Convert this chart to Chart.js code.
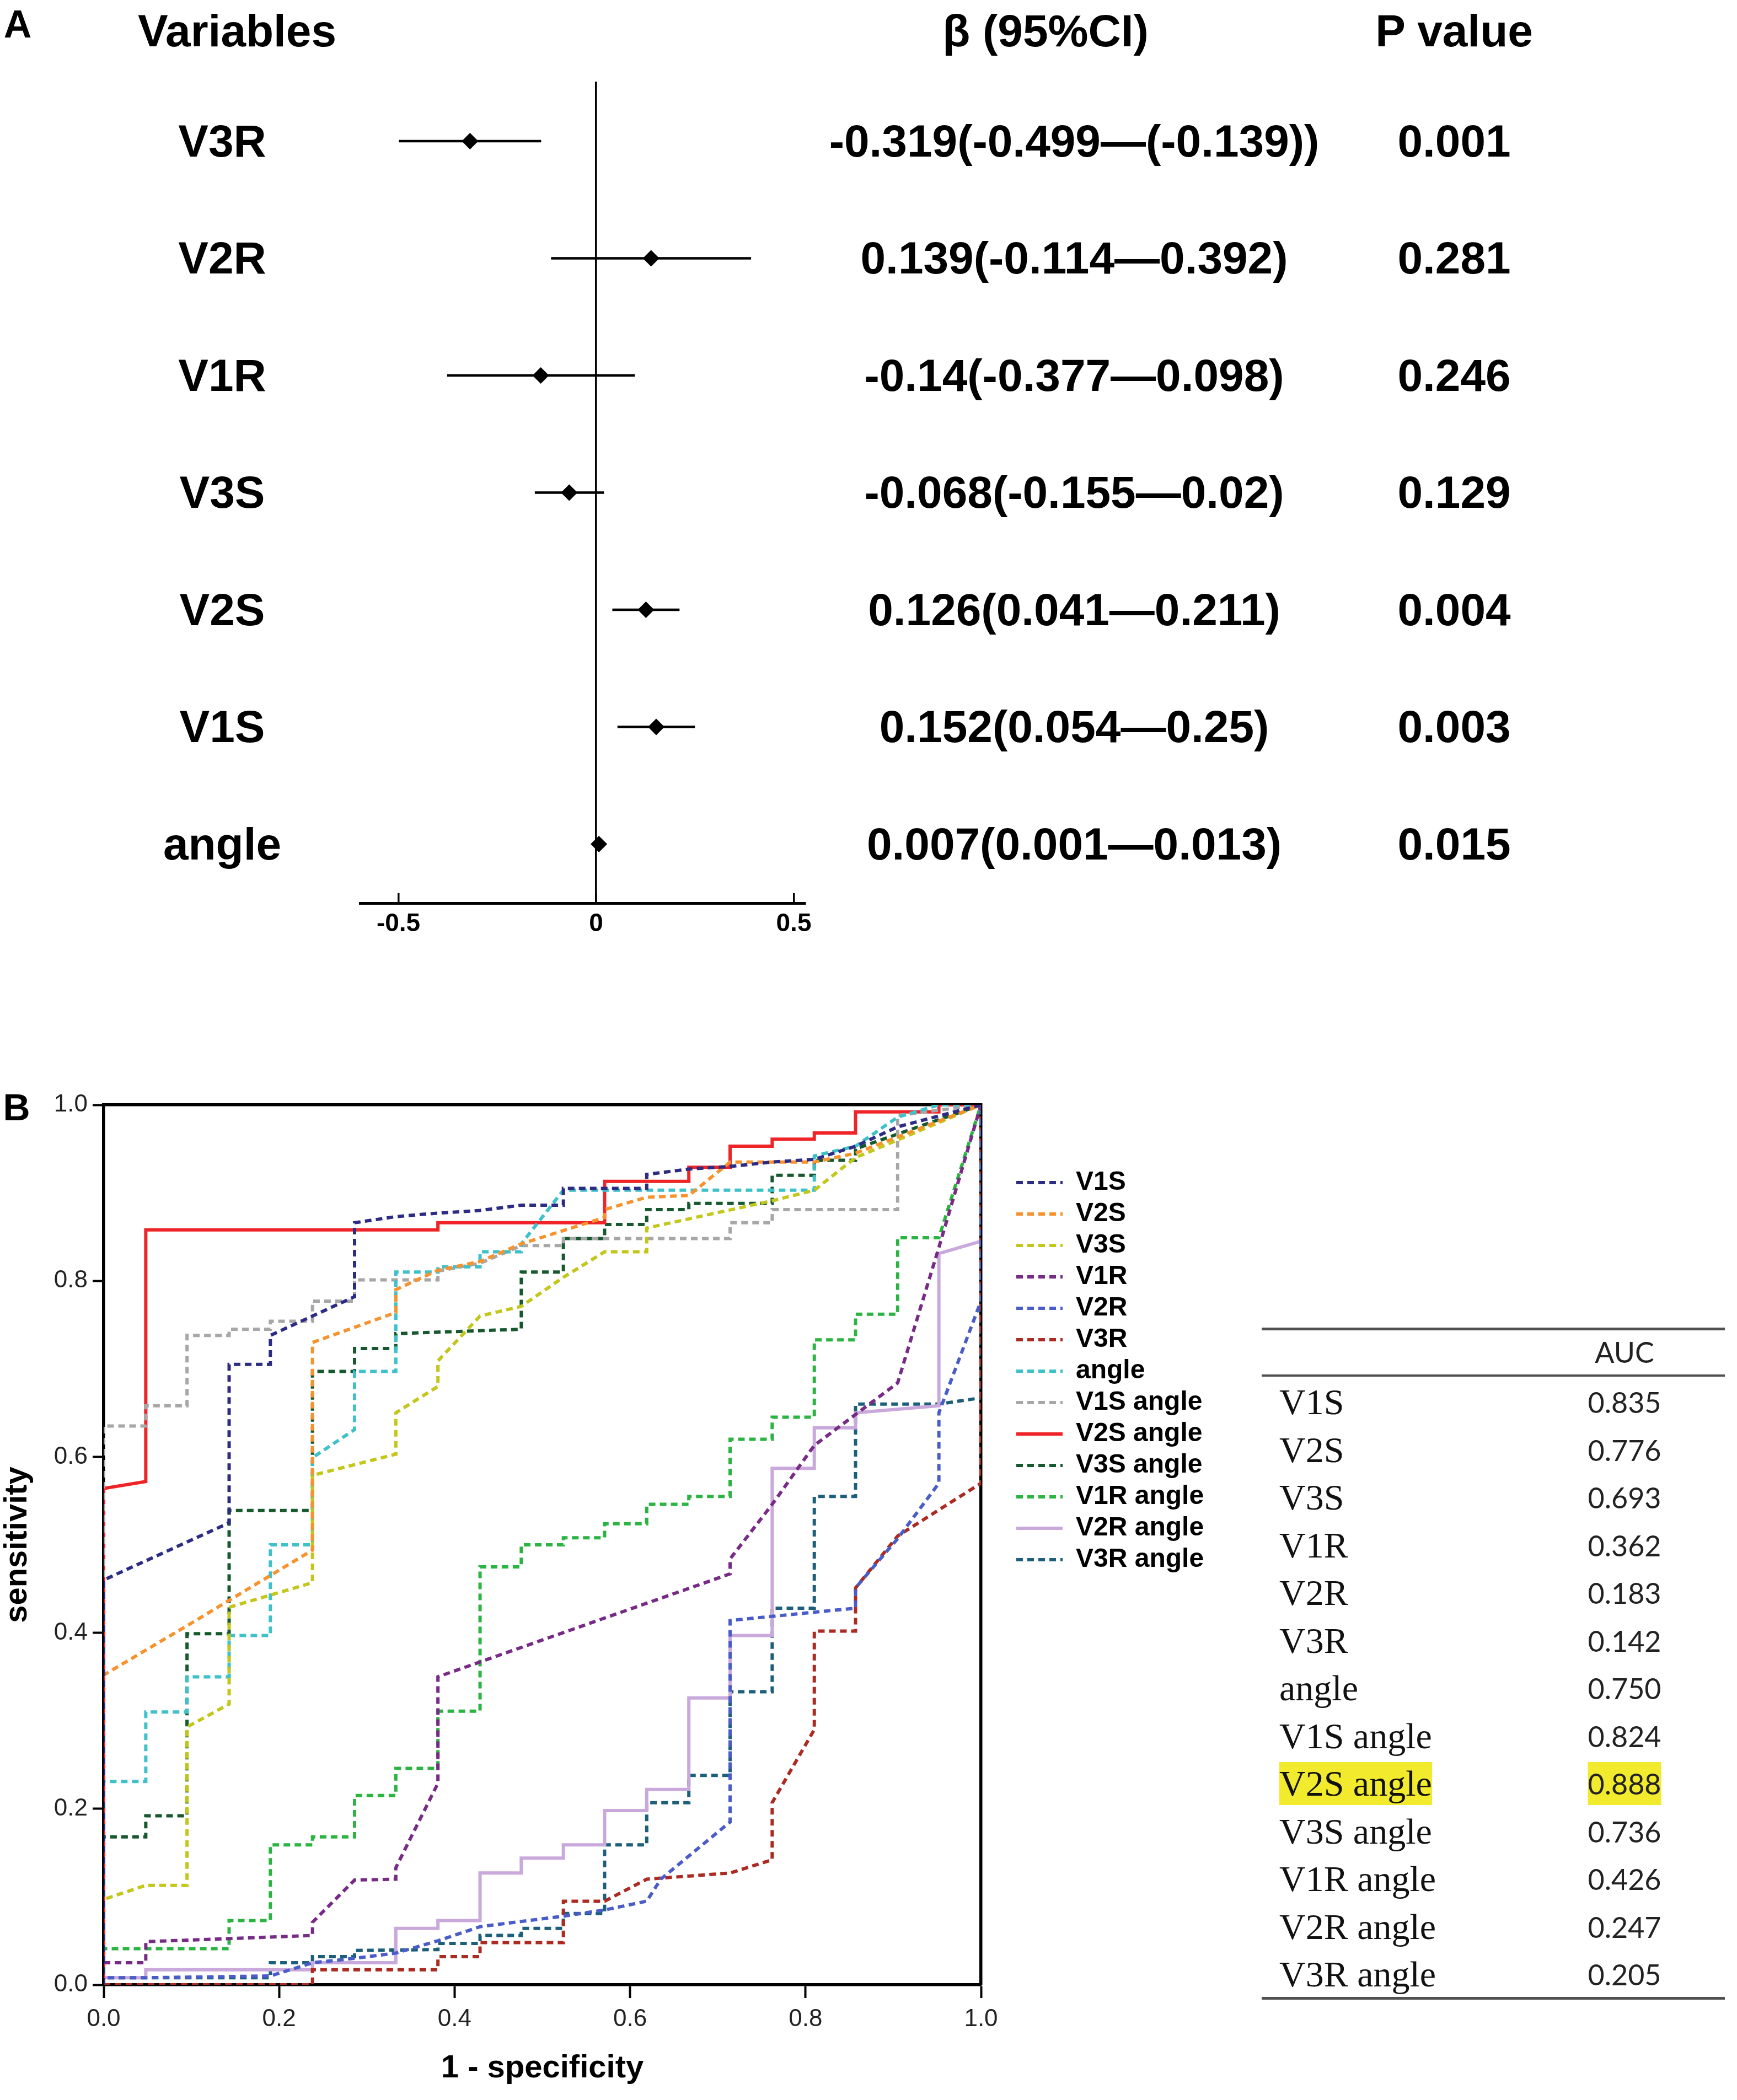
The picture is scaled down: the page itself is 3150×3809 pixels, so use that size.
<!DOCTYPE html>
<html><head><meta charset="utf-8">
<script src="https://cdn.jsdelivr.net/npm/chart.js@4.4.1/dist/chart.umd.min.js"></script>
<style>
html,body{margin:0;padding:0;background:#fff;}
body{width:3150px;height:3809px;position:relative;overflow:hidden;font-family:"Liberation Sans",Arial,sans-serif;}
canvas{position:absolute;}
.t{position:absolute;white-space:nowrap;line-height:1;}
.rule{position:absolute;background:#505050;}
</style></head><body>
<canvas id="forest" width="1600" height="1750" style="left:0;top:0;width:1600px;height:1750px"></canvas>
<canvas id="roc" width="2284" height="1859" style="left:0;top:1950px;width:2284px;height:1859px"></canvas>
<script>
// ---------- Panel A data ----------
const variables = ['V3R','V2R','V1R','V3S','V2S','V1S','angle'];
const beta   = [-0.319, 0.139, -0.14, -0.068, 0.126, 0.152, 0.007];
const ciLow  = [-0.499, -0.114, -0.377, -0.155, 0.041, 0.054, 0.001];
const ciHigh = [-0.139, 0.392, 0.098, 0.02, 0.211, 0.25, 0.013];
const ciLabels = ['-0.319(-0.499\u2014(-0.139))','0.139(-0.114\u20140.392)','-0.14(-0.377\u20140.098)','-0.068(-0.155\u20140.02)','0.126(0.041\u20140.211)','0.152(0.054\u20140.25)','0.007(0.001\u20140.013)'];
const pValues = ['0.001','0.281','0.246','0.129','0.004','0.003','0.015'];
const forestTicks = [-0.5, 0, 0.5];
const forestMin = -0.597, forestMax = 0.5286;

// ---------- Panel B data (1 - specificity, sensitivity) ----------
const rocV1S = [[0,0],[0,0.46],[0.143,0.525],[0.143,0.705],[0.19,0.705],[0.19,0.738],[0.286,0.782],[0.286,0.866],[0.333,0.873],[0.381,0.877],[0.429,0.88],[0.476,0.886],[0.524,0.886],[0.524,0.905],[0.619,0.905],[0.619,0.921],[0.667,0.927],[0.714,0.93],[0.762,0.935],[0.81,0.938],[0.857,0.953],[0.905,0.975],[1,1]];
const rocV2S = [[0,0],[0,0.352],[0.095,0.408],[0.238,0.494],[0.238,0.73],[0.333,0.764],[0.333,0.79],[0.381,0.812],[0.429,0.822],[0.476,0.842],[0.571,0.872],[0.571,0.881],[0.619,0.895],[0.667,0.897],[0.714,0.935],[0.81,0.935],[0.857,0.945],[1,1]];
const rocV3S = [[0,0],[0,0.097],[0.048,0.113],[0.095,0.113],[0.095,0.293],[0.143,0.319],[0.143,0.429],[0.238,0.457],[0.238,0.579],[0.333,0.603],[0.333,0.65],[0.381,0.68],[0.381,0.709],[0.429,0.76],[0.476,0.771],[0.524,0.804],[0.571,0.833],[0.619,0.833],[0.619,0.86],[0.762,0.891],[0.81,0.903],[0.857,0.94],[1,1]];
const rocV1R = [[0,0],[0,0.025],[0.048,0.025],[0.048,0.049],[0.238,0.056],[0.238,0.071],[0.286,0.119],[0.333,0.12],[0.333,0.133],[0.381,0.229],[0.381,0.35],[0.714,0.467],[0.714,0.484],[0.762,0.546],[0.81,0.613],[0.905,0.684],[0.952,0.838],[1,1]];
const rocV2R = [[0,0],[0,0.008],[0.048,0.008],[0.19,0.01],[0.238,0.025],[0.286,0.03],[0.333,0.036],[0.381,0.05],[0.429,0.066],[0.524,0.078],[0.571,0.085],[0.619,0.095],[0.635,0.12],[0.714,0.185],[0.714,0.414],[0.857,0.428],[0.857,0.451],[0.905,0.507],[0.952,0.57],[0.952,0.65],[1,0.777],[1,1]];
const rocV3R = [[0,0],[0.238,0],[0.238,0.017],[0.381,0.017],[0.381,0.032],[0.429,0.032],[0.429,0.048],[0.524,0.048],[0.524,0.095],[0.571,0.095],[0.619,0.12],[0.714,0.127],[0.762,0.142],[0.762,0.207],[0.81,0.29],[0.81,0.402],[0.857,0.402],[0.857,0.451],[0.905,0.51],[1,0.57],[1,1]];
const rocAngle = [[0,0],[0,0.231],[0.048,0.231],[0.048,0.31],[0.095,0.31],[0.095,0.35],[0.143,0.35],[0.143,0.397],[0.19,0.397],[0.19,0.5],[0.238,0.5],[0.238,0.599],[0.286,0.631],[0.286,0.697],[0.333,0.697],[0.333,0.81],[0.381,0.81],[0.381,0.816],[0.429,0.816],[0.429,0.833],[0.476,0.833],[0.476,0.842],[0.524,0.903],[0.81,0.903],[0.81,0.942],[0.857,0.953],[0.905,0.986],[0.952,1],[1,1]];
const rocV1SAngle = [[0,0],[0,0.635],[0.048,0.635],[0.048,0.658],[0.095,0.658],[0.095,0.738],[0.143,0.738],[0.143,0.745],[0.19,0.745],[0.19,0.754],[0.238,0.754],[0.238,0.777],[0.286,0.777],[0.286,0.801],[0.381,0.801],[0.381,0.811],[0.429,0.82],[0.476,0.84],[0.524,0.84],[0.524,0.848],[0.714,0.848],[0.714,0.866],[0.762,0.866],[0.762,0.881],[0.905,0.881],[0.905,0.988],[1,1]];
const rocV2SAngle = [[0,0],[0,0.564],[0.048,0.572],[0.048,0.858],[0.381,0.858],[0.381,0.866],[0.571,0.866],[0.571,0.913],[0.667,0.913],[0.667,0.929],[0.714,0.929],[0.714,0.953],[0.762,0.953],[0.762,0.961],[0.81,0.961],[0.81,0.968],[0.857,0.968],[0.857,0.992],[0.952,0.992],[0.952,1],[1,1]];
const rocV3SAngle = [[0,0],[0,0.168],[0.048,0.168],[0.048,0.192],[0.095,0.192],[0.095,0.399],[0.143,0.399],[0.143,0.539],[0.238,0.539],[0.238,0.697],[0.286,0.697],[0.286,0.723],[0.333,0.723],[0.333,0.74],[0.476,0.745],[0.476,0.81],[0.524,0.81],[0.524,0.848],[0.571,0.848],[0.571,0.864],[0.619,0.864],[0.619,0.881],[0.667,0.881],[0.667,0.888],[0.762,0.888],[0.762,0.92],[0.81,0.92],[0.81,0.937],[0.857,0.937],[0.857,0.95],[1,1]];
const rocV1RAngle = [[0,0],[0,0.041],[0.143,0.041],[0.143,0.073],[0.19,0.073],[0.19,0.159],[0.238,0.159],[0.238,0.168],[0.286,0.168],[0.286,0.215],[0.333,0.215],[0.333,0.246],[0.381,0.246],[0.381,0.311],[0.429,0.311],[0.429,0.475],[0.476,0.475],[0.476,0.5],[0.524,0.5],[0.524,0.508],[0.571,0.508],[0.571,0.524],[0.619,0.524],[0.619,0.546],[0.667,0.546],[0.667,0.555],[0.714,0.555],[0.714,0.62],[0.762,0.62],[0.762,0.645],[0.81,0.645],[0.81,0.733],[0.857,0.733],[0.857,0.762],[0.905,0.762],[0.905,0.849],[0.952,0.849],[1,1]];
const rocV2RAngle = [[0,0],[0,0.008],[0.048,0.008],[0.048,0.017],[0.238,0.017],[0.238,0.025],[0.333,0.025],[0.333,0.064],[0.381,0.064],[0.381,0.073],[0.429,0.073],[0.429,0.127],[0.476,0.127],[0.476,0.144],[0.524,0.144],[0.524,0.159],[0.571,0.159],[0.571,0.198],[0.619,0.198],[0.619,0.222],[0.667,0.222],[0.667,0.326],[0.714,0.326],[0.714,0.397],[0.762,0.397],[0.762,0.587],[0.81,0.587],[0.81,0.633],[0.857,0.633],[0.857,0.65],[0.952,0.658],[0.952,0.831],[1,0.845]];
const rocV3RAngle = [[0,0],[0,0.008],[0.19,0.008],[0.19,0.025],[0.238,0.025],[0.238,0.032],[0.286,0.032],[0.286,0.039],[0.381,0.04],[0.381,0.047],[0.429,0.047],[0.429,0.056],[0.476,0.056],[0.476,0.064],[0.524,0.064],[0.524,0.081],[0.571,0.081],[0.571,0.159],[0.619,0.159],[0.619,0.207],[0.667,0.207],[0.667,0.238],[0.714,0.238],[0.714,0.333],[0.762,0.333],[0.762,0.428],[0.81,0.428],[0.81,0.555],[0.857,0.555],[0.857,0.66],[0.952,0.66],[1,0.667],[1,1]];

const rocLabels = ['V1S','V2S','V3S','V1R','V2R','V3R','angle','V1S angle','V2S angle','V3S angle','V1R angle','V2R angle','V3R angle'];
const rocCurves = [rocV1S,rocV2S,rocV3S,rocV1R,rocV2R,rocV3R,rocAngle,rocV1SAngle,rocV2SAngle,rocV3SAngle,rocV1RAngle,rocV2RAngle,rocV3RAngle];
const rocColors = ['#2D2C84','#F7932E','#C3C71C','#772B86','#4A5CC8','#AB2A21','#3FC1CA','#A7A7A7','#EE2428','#17592F','#2CB443','#C9A9DC','#1C5F7A'];
const rocSolid  = [false,false,false,false,false,false,false,false,true,false,false,true,false];
const axisTicks = 0.2;

// ---------- AUC table ----------
const aucNames  = ['V1S','V2S','V3S','V1R','V2R','V3R','angle','V1S angle','V2S angle','V3S angle','V1R angle','V2R angle','V3R angle'];
const aucValues = ['0.835','0.776','0.693','0.362','0.183','0.142','0.750','0.824','0.888','0.736','0.426','0.247','0.205'];
const aucHighlight = 'V2S angle';

// ---------- helpers ----------
function addText(txt, x, y, o) {
  const d = document.createElement('div');
  d.className = 't';
  d.textContent = txt;
  d.style.left = x + 'px';
  d.style.top = y + 'px';
  d.style.fontSize = o.size + 'px';
  d.style.fontWeight = o.weight || 'bold';
  d.style.fontFamily = o.family || '"Liberation Sans", Arial, sans-serif';
  d.style.color = o.color || '#000';
  if (o.bg) { d.style.background = o.bg; d.style.padding = (o.bgPad || 0) + 'px 0'; }
  d.style.transform = o.align === 'left' ? 'translate(0,-50%)' : 'translate(-50%,-50%)';
  document.body.appendChild(d);
  return d;
}
function addRule(x, y, w, h) {
  const d = document.createElement('div');
  d.className = 'rule';
  d.style.left = x + 'px'; d.style.top = y + 'px';
  d.style.width = w + 'px'; d.style.height = h + 'px';
  document.body.appendChild(d);
}

// ---------- Panel A: forest plot ----------
const ciData = [];
variables.forEach((v, i) => {
  ciData.push({x: ciLow[i], y: i}, {x: ciHigh[i], y: i}, {x: ciHigh[i], y: null});
});
const forest = new Chart(document.getElementById('forest'), {
  type: 'scatter',
  data: { datasets: [
    { data: variables.map((v, i) => ({x: beta[i], y: i})), pointStyle: 'rectRot', pointRadius: 15, pointHoverRadius: 15,
      backgroundColor: '#000', borderColor: '#000', borderWidth: 0 },
    { data: ciData, showLine: true, spanGaps: false, borderColor: '#000', borderWidth: 4.5, pointRadius: 0, pointHoverRadius: 0 }
  ]},
  options: {
    responsive: false, devicePixelRatio: 1, animation: false, events: [],
    layout: { padding: { left: 653, right: 140, top: 148, bottom: 0 } },
    plugins: { legend: { display: false }, tooltip: { enabled: false } },
    scales: {
      x: {
        type: 'linear', min: forestMin, max: forestMax,
        afterBuildTicks: s => { s.ticks = forestTicks.map(v => ({value: v})); },
        afterFit: s => { s.height = 112; },
        grid: { drawOnChartArea: true, color: c => (c.tick && c.tick.value === 0) ? '#000' : 'rgba(0,0,0,0)',
                lineWidth: 3.5, drawTicks: true, tickLength: -18, tickColor: '#000', tickWidth: 3.5 },
        border: { display: true, color: '#000', width: 5 },
        ticks: { padding: 29, color: '#000', maxRotation: 0, autoSkip: false,
                 font: { family: 'Liberation Sans', weight: 'bold', size: 46 },
                 callback: v => String(v) }
      },
      y: { type: 'linear', display: false, min: -0.508, max: 6.504, reverse: true }
    }
  }
});

addText('A', 32, 44, {size: 70});
addText('Variables', 430, 56, {size: 82});
addText('\u03B2 (95%CI)', 1896, 56, {size: 82});
addText('P value', 2637, 56, {size: 82});
variables.forEach((v, i) => {
  const y = forest.scales.y.getPixelForValue(i);
  addText(v, 403, y, {size: 82});
  addText(ciLabels[i], 1948, y, {size: 82});
  addText(pValues[i], 2637, y, {size: 82});
});

// ---------- Panel B: ROC curves ----------
const rocCanvasW = 2284, legendLeft = 1834, legendPad = 9, legendBox = 84, legendFontSize = 48;
const mctx = document.createElement('canvas').getContext('2d');
mctx.font = 'bold ' + legendFontSize + 'px Liberation Sans';
const maxLegendText = Math.max(...rocLabels.map(t => mctx.measureText(t).width));
const legendWidth = legendPad + legendBox + legendFontSize / 2 + maxLegendText + 10;
const rightPad = Math.max(0, rocCanvasW - legendLeft - legendWidth);

const roc = new Chart(document.getElementById('roc'), {
  type: 'line',
  data: { datasets: rocLabels.map((lab, i) => ({
    label: lab,
    data: rocCurves[i].map(p => ({x: p[0], y: p[1]})),
    borderColor: rocColors[i], backgroundColor: rocColors[i],
    borderWidth: 6, borderDash: rocSolid[i] ? [] : [12, 8],
    pointRadius: 0, pointHoverRadius: 0, fill: false, tension: 0
  }))},
  options: {
    responsive: false, devicePixelRatio: 1, animation: false, events: [],
    layout: { padding: { left: 0, right: rightPad, top: 54, bottom: 0 } },
    plugins: {
      tooltip: { enabled: false },
      legend: {
        position: 'right', align: 'start', maxWidth: 1000,
        title: { display: true, text: '', padding: { top: 100, bottom: 0 }, font: { size: 8, lineHeight: 1 } },
        labels: {
          usePointStyle: true, pointStyle: 'line', pointStyleWidth: legendBox, boxWidth: legendBox, padding: legendPad, color: '#000',
          font: { family: 'Liberation Sans', weight: 'bold', size: legendFontSize },
          generateLabels: chart => Chart.defaults.plugins.legend.labels.generateLabels(chart).map(it => {
            const ds = chart.data.datasets[it.datasetIndex];
            it.lineDash = ds.borderDash;
            it.lineWidth = ds.borderWidth;
            it.strokeStyle = ds.borderColor;
            it.fillStyle = ds.borderColor;
            it.pointStyle = 'line';
            return it;
          })
        }
      }
    },
    scales: {
      x: {
        type: 'linear', position: 'bottom', min: 0, max: 1,
        afterFit: s => { s.height = 209; },
        ticks: { stepSize: axisTicks, padding: 12, color: '#222', maxRotation: 0,
                 font: { family: 'Liberation Sans', size: 44 }, callback: v => Number(v).toFixed(1) },
        grid: { drawOnChartArea: false, drawTicks: true, tickLength: 24, tickWidth: 4, tickColor: '#000' },
        border: { display: true, color: '#000', width: 5.5 },
        title: { display: true, text: '1 - specificity', color: '#000', padding: { top: 0, bottom: 28 },
                 font: { family: 'Liberation Sans', weight: 'bold', size: 58, lineHeight: 1 } }
      },
      y: {
        type: 'linear', position: 'left', min: 0, max: 1,
        afterFit: s => { s.width = 188; },
        ticks: { stepSize: axisTicks, padding: 9, color: '#222',
                 font: { family: 'Liberation Sans', size: 44 }, callback: v => Number(v).toFixed(1) },
        grid: { drawOnChartArea: false, drawTicks: true, tickLength: 20, tickWidth: 4, tickColor: '#000' },
        border: { display: true, color: '#000', width: 5.5 },
        title: { display: true, text: 'sensitivity', color: '#000', padding: { top: 3, bottom: 0 },
                 font: { family: 'Liberation Sans', weight: 'bold', size: 58, lineHeight: 1 } }
      },
      xt: {
        type: 'linear', position: 'top', min: 0, max: 1,
        afterFit: s => { s.height = 0; },
        ticks: { display: false },
        grid: { display: true, drawOnChartArea: false, drawTicks: false },
        border: { display: true, color: '#000', width: 5.5 }
      },
      yr: {
        type: 'linear', position: 'right', min: 0, max: 1,
        afterFit: s => { s.width = 55; },
        ticks: { display: false },
        grid: { display: true, drawOnChartArea: false, drawTicks: false },
        border: { display: true, color: '#000', width: 5.5 }
      }
    }
  }
});

addText('B', 30, 2008, {size: 68});

// ---------- AUC table ----------
const tLeft = 2288, tWidth = 840;
addRule(tLeft, 2408, tWidth, 5);
addText('AUC', 2946, 2452, {size: 52, weight: 'normal', family: 'Lato, "Open Sans", sans-serif', color: '#222'});
addRule(tLeft, 2493, tWidth, 4);
aucNames.forEach((n, i) => {
  const y = 2543 + i * 86.5;
  const hl = n === aucHighlight;
  addText(n, 2320, y, {size: 66, weight: 'normal', family: '"Liberation Serif", "Times New Roman", serif', color: '#111', align: 'left', bg: hl ? '#F2EA2C' : null, bgPad: 6});
  addText(aucValues[i], 2946, y, {size: 52, weight: 'normal', family: 'Lato, "Open Sans", sans-serif', color: '#222', bg: hl ? '#F2EA2C' : null, bgPad: 13});
});
addRule(tLeft, 3622, tWidth, 5);
</script>
</body></html>
